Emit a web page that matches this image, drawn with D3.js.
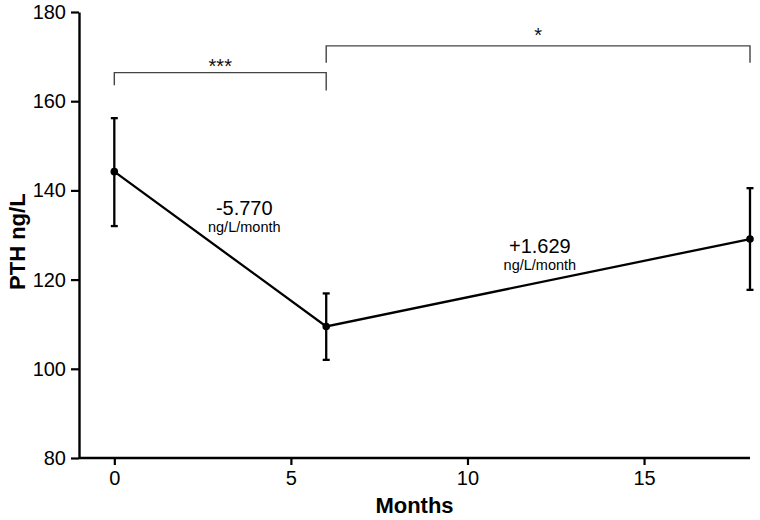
<!DOCTYPE html>
<html><head><meta charset="utf-8">
<script src="https://cdn.jsdelivr.net/npm/d3@7"></script>
<style>body{margin:0;background:#fff}svg{display:block}text{font-family:"Liberation Sans",Arial,sans-serif}</style>
</head><body>
<svg id="c" width="760" height="520"></svg>
<script>
const months = [0, 6, 18];
const meanPTH = [144.2, 109.5, 129.1];
const upperPTH = [156.2, 116.9, 140.5];
const lowerPTH = [132.0, 102.0, 117.7];
const xTicks = [0, 5, 10, 15];
const yTicks = [80, 100, 120, 140, 160, 180];
const bracketFrom = [0, 6];
const bracketTo = [6, 18];
const bracketTop = [166.4, 172.4];
const bracketLegL = [163.6, 168.6];
const bracketLegR = [162.4, 168.6];
const bracketLabels = ["***", "*"];
const bracketLabelLevel = [168.7, 175.7];
const slopeValues = ["-5.770", "+1.629"];
const slopeUnit = "ng/L/month";

const svg = d3.select("#c");
const x = d3.scaleLinear().domain([-1, 18]).range([79, 750]);
const y = d3.scaleLinear().domain([80, 180]).range([458, 12]);

// axes
const xAxis = svg.append("g").attr("transform", `translate(0,${y(80)})`)
  .call(d3.axisBottom(x).tickValues(xTicks).tickSize(7).tickSizeOuter(0).tickPadding(6));
const yAxis = svg.append("g").attr("transform", `translate(${x(-1)},0)`)
  .call(d3.axisLeft(y).tickValues(yTicks).tickSize(8).tickSizeOuter(0).tickPadding(5));
[xAxis, yAxis].forEach(a => {
  a.select(".domain").attr("stroke", "#000").attr("stroke-width", 2.4);
  a.selectAll(".tick line").attr("stroke", "#000").attr("stroke-width", 2.2);
  a.selectAll(".tick text").attr("font-size", 20).attr("fill", "#000")
    .attr("font-family", "'Liberation Sans', Arial, sans-serif");
});
xAxis.selectAll(".domain").attr("d", `M${x(-1)},0H${x(18)}`);

svg.append("text").attr("x", x(8.5)).attr("y", 513).attr("text-anchor", "middle")
  .attr("font-size", 22).attr("font-weight", "bold").text("Months");
svg.append("text").attr("transform", `translate(25,${y(128.5)}) rotate(-90)`)
  .attr("text-anchor", "middle").attr("font-size", 22).attr("font-weight", "bold").text("PTH ng/L");

// line
const pts = months.map((m, i) => ({m, v: meanPTH[i], hi: upperPTH[i], lo: lowerPTH[i]}));
svg.append("path").datum(pts).attr("fill", "none").attr("stroke", "#000").attr("stroke-width", 2.3)
  .attr("d", d3.line().x(d => x(d.m)).y(d => y(d.v)));

// error bars
const eb = svg.append("g").attr("stroke", "#000").attr("stroke-width", 2.3);
pts.forEach(d => {
  eb.append("line").attr("x1", x(d.m)).attr("x2", x(d.m)).attr("y1", y(d.hi)).attr("y2", y(d.lo));
  [d.hi, d.lo].forEach(v => eb.append("line").attr("x1", x(d.m) - 3.5).attr("x2", x(d.m) + 3.5)
    .attr("y1", y(v)).attr("y2", y(v)));
});
svg.selectAll("circle.pt").data(pts).join("circle").attr("class", "pt")
  .attr("cx", d => x(d.m)).attr("cy", d => y(d.v)).attr("r", 3.8).attr("fill", "#000");

// brackets
bracketFrom.forEach((f, i) => {
  const t = bracketTo[i];
  svg.append("path").attr("fill", "none").attr("stroke", "#444").attr("stroke-width", 1.4)
    .attr("d", `M${x(f)},${y(bracketLegL[i])}V${y(bracketTop[i])}H${x(t)}V${y(bracketLegR[i])}`);
  svg.append("text").attr("x", (x(f) + x(t)) / 2).attr("y", y(bracketLabelLevel[i]) + 11)
    .attr("text-anchor", "middle").attr("font-size", 20).attr("fill", "#111").text(bracketLabels[i]);
});

// slope labels
const slopePos = [[3.68, 134.5], [12.05, 126.0]];
slopeValues.forEach((s, i) => {
  const cx = x(slopePos[i][0]), cy = y(slopePos[i][1]);
  svg.append("text").attr("x", cx).attr("y", cy).attr("text-anchor", "middle")
    .attr("font-size", 20).attr("fill", "#000").text(s);
  svg.append("text").attr("x", cx).attr("y", cy + 17).attr("text-anchor", "middle")
    .attr("font-size", 14.5).attr("fill", "#000").text(slopeUnit);
});
</script>
</body></html>
